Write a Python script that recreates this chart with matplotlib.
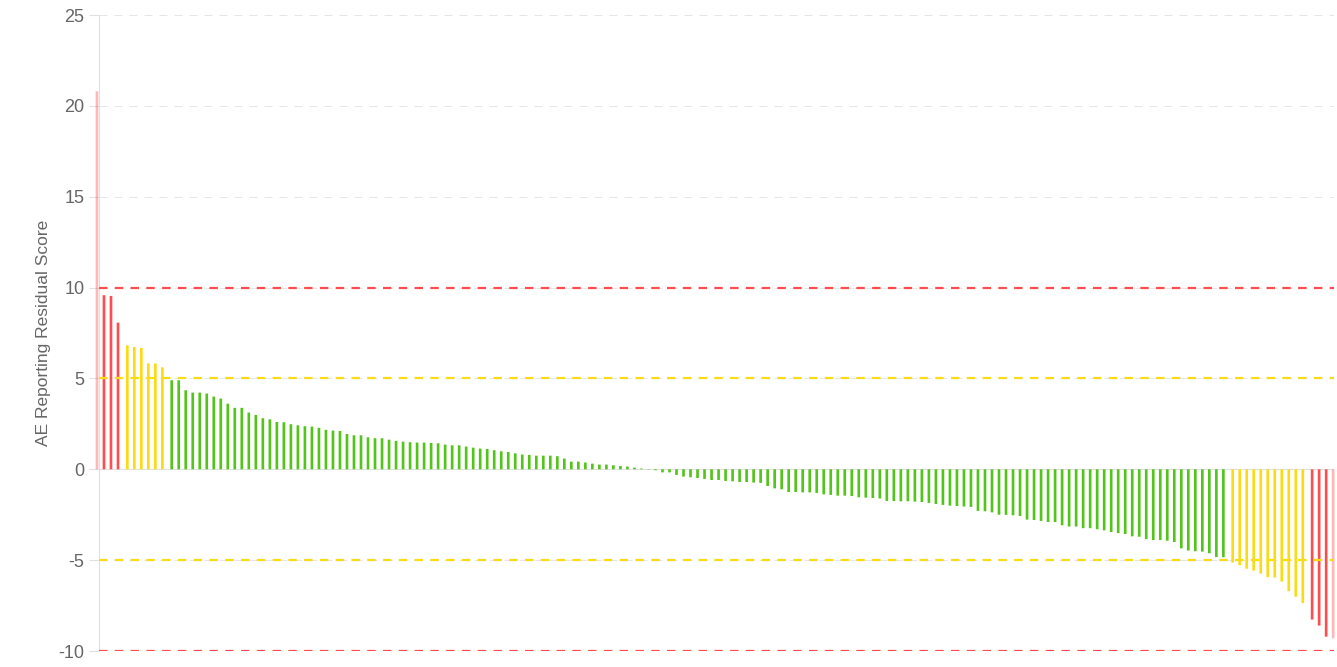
import numpy as np
import matplotlib
matplotlib.use("Agg")
import matplotlib.pyplot as plt

plt.rcParams["font.family"] = ["Liberation Sans", "DejaVu Sans"]

# ---------- data: residual scores, sorted high -> low, split by flag level ----------
high_pos = [20.8, 9.58, 9.54, 8.07]
warn_pos = [6.82, 6.73, 6.68, 5.83, 5.82, 5.61]
normal = [
    4.90, 4.90, 4.35, 4.22, 4.22, 4.17, 4.00, 3.89, 3.61, 3.38,
    3.38, 3.12, 2.99, 2.81, 2.75, 2.60, 2.59, 2.48, 2.42, 2.37,
    2.35, 2.28, 2.17, 2.13, 2.11, 1.94, 1.87, 1.87, 1.76, 1.71,
    1.71, 1.63, 1.56, 1.52, 1.49,
    1.47, 1.47, 1.45, 1.43, 1.36, 1.32, 1.32, 1.25, 1.19, 1.14,
    1.12, 1.05, 0.99, 0.95, 0.88, 0.81, 0.79, 0.75, 0.75, 0.75,
    0.72, 0.59, 0.42, 0.42, 0.37, 0.31, 0.26, 0.26, 0.22, 0.18,
    0.15, 0.09, 0.04, -0.02, -0.05, -0.17, -0.17, -0.31, -0.40, -0.44,
    -0.48, -0.53, -0.59, -0.59, -0.64, -0.66, -0.70, -0.70, -0.73, -0.75,
    -0.92, -1.05, -1.10, -1.25, -1.25, -1.27, -1.27, -1.30, -1.38, -1.41,
    -1.45, -1.45, -1.47, -1.54, -1.56, -1.58, -1.61, -1.74, -1.75, -1.76,
    -1.76, -1.78, -1.80, -1.85, -1.91, -1.96, -2.00, -2.02, -2.05, -2.07,
    -2.29, -2.31, -2.37, -2.50, -2.51, -2.53, -2.57, -2.77, -2.79, -2.84,
    -2.90, -2.90, -3.08, -3.15, -3.15, -3.24, -3.24, -3.30, -3.36, -3.45,
    -3.51, -3.56, -3.69, -3.71, -3.84, -3.89, -3.89, -3.93, -4.00, -4.35,
    -4.47, -4.51, -4.53, -4.62, -4.83, -4.84,
]
warn_neg = [-5.14, -5.28, -5.47, -5.58, -5.74, -5.93, -5.96, -6.18, -6.71, -7.01, -7.36]
high_neg = [-8.27, -8.60, -9.21, -9.30]

groups = [high_pos, warn_pos, normal, warn_neg, high_neg]
group_colors = ["#ff4d4f", "#fadb14", "#52c41a", "#fadb14", "#ff4d4f"]

thresholds = [10, 5, -5, -10]
threshold_colors = ["#ff4d4f", "#fadb14", "#fadb14", "#ff4d4f"]
yticks = [-10, -5, 0, 5, 10, 15, 20, 25]

n_total = sum(len(g) for g in groups)

# ---------- figure ----------
W, H = 1337, 667
fig = plt.figure(figsize=(W / 100, H / 100), dpi=100)
ax = fig.add_axes([99 / W, 1 - 651 / H, (1334 - 99) / W, (651 - 15) / H])

slot = 0.33  # each flag level is its own series -> small group offset
start = 0
for gi, (vals, col) in enumerate(zip(groups, group_colors)):
    idx = np.arange(start, start + len(vals))
    bars = ax.bar(idx + (gi - 2) * slot, vals, width=0.38, color=col,
                  linewidth=0, zorder=2)
    for b in bars:
        b.set_snap(False)
    start += len(vals)
    # the two outermost bars sit at the chart edge and show only faintly
    if gi == 0:
        bars[0].set_alpha(0.4)
        bars[0].set_clip_on(False)
    if gi == len(groups) - 1:
        bars[-1].set_alpha(0.4)
        bars[-1].set_clip_on(False)

for t, c in zip(thresholds, threshold_colors):
    ax.axhline(t, color=c, lw=1.6, ls=(0, (3.8, 3.3)), zorder=3)
ax.axhline(0, color="#e0e0e0", lw=0.8, zorder=1)

ax.set_xlim(-0.37, n_total - 1 + 0.78)
ax.set_ylim(-10, 25)
ax.set_yticks(yticks)
ax.set_yticklabels([str(v) for v in yticks])
ax.yaxis.grid(True, color="#e6e6e6", lw=0.72, ls=(0, (8, 7)), zorder=0)
ax.set_axisbelow(True)

for s in ["top", "right", "bottom"]:
    ax.spines[s].set_visible(False)
ax.spines["left"].set_color("#e0e0e0")
ax.spines["left"].set_linewidth(0.8)

ax.tick_params(axis="y", length=7.5, width=0.8, color="#e0e0e0",
               labelcolor="#666666", labelsize=13, pad=3)
ax.tick_params(axis="x", bottom=False, labelbottom=False)

ax.set_ylabel("AE Reporting Residual Score", fontsize=12.5, color="#666666")
ax.yaxis.set_label_coords(-0.039, 0.5)

fig.savefig("out.png", dpi=100)
